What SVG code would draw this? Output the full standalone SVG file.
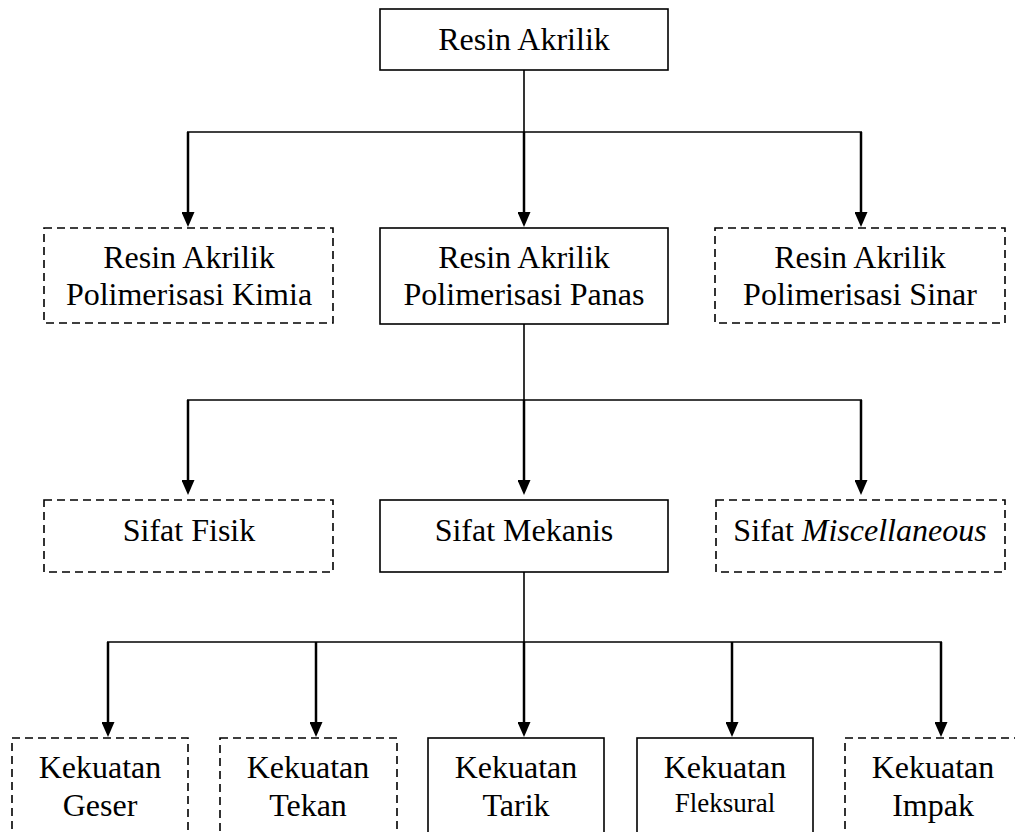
<svg xmlns="http://www.w3.org/2000/svg" width="1015" height="832" viewBox="0 0 1015 832">
<style>
  .box { fill: #fff; stroke: #000; stroke-width: 1.6; }
  .dash { fill: #fff; stroke: #000; stroke-width: 1.6; stroke-dasharray: 8 5; }
  .t { font-family: "Liberation Serif", "Times New Roman", serif; font-size: 32px; fill: #000; text-anchor: middle; }
  .small { font-size: 27px; }
  .ln { stroke: #000; stroke-width: 1.6; fill: none; }
  .arr { stroke: #000; stroke-width: 2.5; fill: none; marker-end: url(#ah); }
</style>
<defs>
  <marker id="ah" markerUnits="userSpaceOnUse" viewBox="0 0 15 13" refX="3" refY="6.5" markerWidth="15" markerHeight="13" orient="auto">
    <path d="M0,0 L15,6.5 L0,13 z" fill="#000"/>
  </marker>
</defs>
<rect width="1015" height="832" fill="#fff"/>

<g id="connectors">
  <line class="ln" x1="524" y1="70" x2="524" y2="132"/>
  <line class="ln" x1="187" y1="132" x2="862" y2="132"/>
  <line class="arr" x1="188" y1="132" x2="188" y2="215"/>
  <line class="arr" x1="524" y1="132" x2="524" y2="215"/>
  <line class="arr" x1="861" y1="132" x2="861" y2="215"/>

  <line class="ln" x1="524" y1="324" x2="524" y2="400"/>
  <line class="ln" x1="187" y1="400" x2="862" y2="400"/>
  <line class="arr" x1="188" y1="400" x2="188" y2="483"/>
  <line class="arr" x1="524" y1="400" x2="524" y2="483"/>
  <line class="arr" x1="861" y1="400" x2="861" y2="483"/>

  <line class="ln" x1="524" y1="572" x2="524" y2="642"/>
  <line class="ln" x1="107" y1="642" x2="942" y2="642"/>
  <line class="arr" x1="108" y1="642" x2="108" y2="725"/>
  <line class="arr" x1="316" y1="642" x2="316" y2="725"/>
  <line class="arr" x1="524" y1="642" x2="524" y2="725"/>
  <line class="arr" x1="732" y1="642" x2="732" y2="725"/>
  <line class="arr" x1="941" y1="642" x2="941" y2="725"/>
</g>

<g id="resin-akrilik">
  <rect class="box" x="380" y="9" width="288" height="61"/>
  <text class="t" x="524" y="50">Resin Akrilik</text>
</g>

<g id="polimerisasi-kimia">
  <rect class="dash" x="44" y="228" width="289" height="95"/>
  <text class="t" x="189" y="268">Resin Akrilik</text>
  <text class="t" x="189" y="305">Polimerisasi Kimia</text>
</g>
<g id="polimerisasi-panas">
  <rect class="box" x="380" y="228" width="288" height="96"/>
  <text class="t" x="524" y="268">Resin Akrilik</text>
  <text class="t" x="524" y="305">Polimerisasi Panas</text>
</g>
<g id="polimerisasi-sinar">
  <rect class="dash" x="715" y="228" width="290" height="95"/>
  <text class="t" x="860" y="268">Resin Akrilik</text>
  <text class="t" x="860" y="305">Polimerisasi Sinar</text>
</g>

<g id="sifat-fisik">
  <rect class="dash" x="44" y="500" width="289" height="72"/>
  <text class="t" x="189" y="541">Sifat Fisik</text>
</g>
<g id="sifat-mekanis">
  <rect class="box" x="380" y="500" width="288" height="72"/>
  <text class="t" x="524" y="541">Sifat Mekanis</text>
</g>
<g id="sifat-miscellaneous">
  <rect class="dash" x="716" y="500" width="289" height="72"/>
  <text class="t" x="860" y="541">Sifat <tspan font-style="italic">Miscellaneous</tspan></text>
</g>

<g id="kekuatan-geser">
  <rect class="dash" x="12" y="738" width="176" height="110"/>
  <text class="t" x="100" y="778">Kekuatan</text>
  <text class="t" x="100" y="816">Geser</text>
</g>
<g id="kekuatan-tekan">
  <rect class="dash" x="220" y="738" width="177" height="110"/>
  <text class="t" x="308" y="778">Kekuatan</text>
  <text class="t" x="308" y="816">Tekan</text>
</g>
<g id="kekuatan-tarik">
  <rect class="box" x="428" y="738" width="176" height="110"/>
  <text class="t" x="516" y="778">Kekuatan</text>
  <text class="t" x="516" y="816">Tarik</text>
</g>
<g id="kekuatan-fleksural">
  <rect class="box" x="637" y="738" width="176" height="110"/>
  <text class="t" x="725" y="778">Kekuatan</text>
  <text class="t small" x="725" y="812">Fleksural</text>
</g>
<g id="kekuatan-impak">
  <rect class="dash" x="845" y="738" width="176" height="110"/>
  <text class="t" x="933" y="778">Kekuatan</text>
  <text class="t" x="933" y="816">Impak</text>
</g>
</svg>
